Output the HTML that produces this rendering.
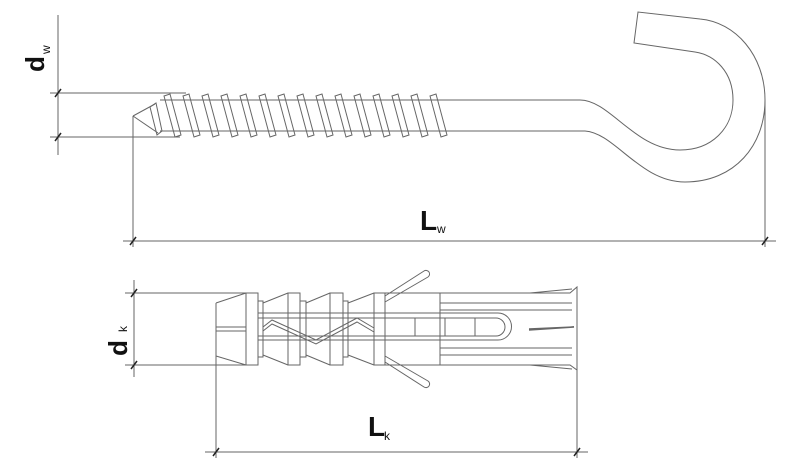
<!DOCTYPE html>
<html><head><meta charset="utf-8"><style>
html,body{margin:0;padding:0;background:#fff;width:800px;height:468px;overflow:hidden}
svg{display:block}
text{font-family:"Liberation Sans",Arial,sans-serif;fill:#111}
</style></head><body>
<svg width="800" height="468" viewBox="0 0 800 468" xmlns="http://www.w3.org/2000/svg">
<g fill="none" stroke="#666" stroke-width="1">
<line x1="58" y1="15" x2="58" y2="155"/>
<line x1="50" y1="93" x2="186" y2="93"/>
<line x1="50" y1="137" x2="180" y2="137"/>
<line x1="55" y1="97" x2="61" y2="89" stroke="#222" stroke-width="1.5"/>
<line x1="55" y1="141" x2="61" y2="133" stroke="#222" stroke-width="1.5"/>
<line x1="133" y1="116" x2="133" y2="247"/>
<line x1="123" y1="241" x2="776" y2="241"/>
<line x1="765" y1="100" x2="765" y2="247"/>
<line x1="130" y1="245" x2="136" y2="237" stroke="#222" stroke-width="1.5"/>
<line x1="762" y1="245" x2="768" y2="237" stroke="#222" stroke-width="1.5"/>
<path d="M133,116 L155,104 M133,116 L158,133"/>
<path d="M150,107 L156,103 L162,131 L157,135 Z"/>
<line x1="160" y1="100" x2="185" y2="100"/>
<path d="M180,100 L580,100 C610,100 635,150 680,150 C712,150 733,128 733,100 C733,72 715,55 695,52 L634,43 L638,12 L700,19 C735,22 765,55 765,100 C765,145 735,182 685,182 C640,182 615,133 585,131 L160,131"/>
<g>
<path d="M164,96 L170,94 L181,135 L175,137 Z"/>
<path d="M183,96 L189,94 L200,135 L194,137 Z"/>
<path d="M202,96 L208,94 L219,135 L213,137 Z"/>
<path d="M221,96 L227,94 L238,135 L232,137 Z"/>
<path d="M240,96 L246,94 L257,135 L251,137 Z"/>
<path d="M259,96 L265,94 L276,135 L270,137 Z"/>
<path d="M278,96 L284,94 L295,135 L289,137 Z"/>
<path d="M297,96 L303,94 L314,135 L308,137 Z"/>
<path d="M316,96 L322,94 L333,135 L327,137 Z"/>
<path d="M335,96 L341,94 L352,135 L346,137 Z"/>
<path d="M354,96 L360,94 L371,135 L365,137 Z"/>
<path d="M373,96 L379,94 L390,135 L384,137 Z"/>
<path d="M392,96 L398,94 L409,135 L403,137 Z"/>
<path d="M411,96 L417,94 L428,135 L422,137 Z"/>
<path d="M430,96 L436,94 L447,135 L441,137 Z"/>
</g>
<line x1="134" y1="280" x2="134" y2="377"/>
<line x1="125" y1="293" x2="250" y2="293"/>
<line x1="125" y1="365" x2="246" y2="365"/>
<line x1="131" y1="297" x2="137" y2="289" stroke="#222" stroke-width="1.5"/>
<line x1="131" y1="369" x2="137" y2="361" stroke="#222" stroke-width="1.5"/>
<line x1="216" y1="356" x2="216" y2="458"/>
<line x1="577" y1="370" x2="577" y2="458"/>
<line x1="205" y1="452" x2="588" y2="452"/>
<line x1="213" y1="456" x2="219" y2="448" stroke="#222" stroke-width="1.5"/>
<line x1="574" y1="456" x2="580" y2="448" stroke="#222" stroke-width="1.5"/>
<path d="M216,303 L246,293 M216,303 L216,356 L246,365"/>
<rect x="246" y="293" width="12" height="72"/>
<path d="M258,301 L263,301 L263,357 L258,357"/>
<path d="M263,303 L288,293 M263,355 L288,365"/>
<rect x="288" y="293" width="12" height="72"/>
<path d="M300,301 L306,301 L306,357 L300,357"/>
<path d="M306,303 L330,293 M306,355 L330,365"/>
<rect x="330" y="293" width="13" height="72"/>
<path d="M343,301 L348,301 L348,357 L343,357"/>
<path d="M348,303 L374,293 M348,355 L374,365"/>
<rect x="374" y="293" width="11" height="72"/>
<path d="M385,293 L440,293 L440,365 L385,365"/>
<path d="M440,293 L570,293 L577,287 L577,370 L570,365 L440,365"/>
<path d="M440,303 L572,303 M440,310 L572,310 M440,348 L572,348 M440,355 L572,355"/>
<path d="M258,313 L498,313 A13.5,13.5 0 0 1 498,340 L258,340"/>
<path d="M258,318 L496,318 A9,9 0 0 1 496,336 L258,336"/>
<line x1="415" y1="318" x2="415" y2="336"/>
<line x1="445" y1="318" x2="445" y2="336"/>
<line x1="475" y1="318" x2="475" y2="336"/>
<path d="M216,327 L246,327 M216,331 L246,331"/>
<path d="M263,327 L272,320 L316,340 L357,318 L374,328"/>
<path d="M263,331 L272,324 L316,344 L357,322 L374,332"/>
<path d="M529,329 L574,327 L529,330" stroke-width="1.5"/>
<path d="M530,293 L572,289 M530,365 L572,369"/>
<path d="M385,296 L424,271 A3,3 0 0 1 428,277 L385,302"/>
<path d="M385,362 L424,387 A3,3 0 0 0 428,381 L385,356"/>
</g>
<text transform="translate(44,72) rotate(-90)" font-size="26" font-weight="bold">d</text>
<text transform="translate(50,54) rotate(-90)" font-size="12" fill="#555">w</text>
<text x="420" y="230" font-size="28" font-weight="bold">L</text>
<text x="437" y="233" font-size="12">w</text>
<text transform="translate(127,356) rotate(-90)" font-size="26" font-weight="bold">d</text>
<text transform="translate(127,332) rotate(-90)" font-size="12">k</text>
<text x="368" y="436" font-size="28" font-weight="bold">L</text>
<text x="384" y="440" font-size="12">k</text>
</svg>
</body></html>
